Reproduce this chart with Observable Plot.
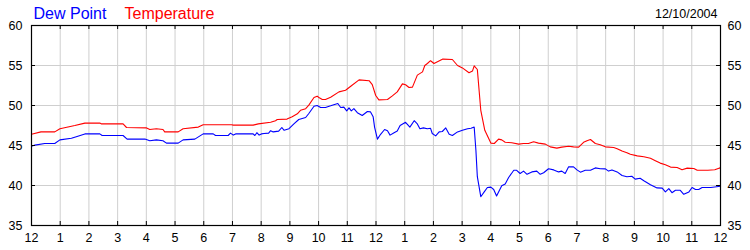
<!DOCTYPE html>
<html>
<head>
<meta charset="utf-8">
<script src="https://cdn.jsdelivr.net/npm/d3@7"></script>
<script src="https://cdn.jsdelivr.net/npm/@observablehq/plot@0.6"></script>
<style>
  html, body { margin: 0; padding: 0; background: #fff; }
</style>
</head>
<body>
<div id="chart"></div>
<script>
// Series labels and date
const seriesNames = ["Dew Point", "Temperature"];
const dateLabel = "12/10/2004";

// Hour ticks (0 = midnight .. 24 = next midnight), y ticks
const hourTicks = d3.range(0, 25);
const hourLabels = ["12","1","2","3","4","5","6","7","8","9","10","11","12","1","2","3","4","5","6","7","8","9","10","11","12"];
const yTicks = [35, 40, 45, 50, 55, 60];

// Temperature (hours since midnight, °F)
const tempHours = [0,0.33,0.81,0.99,1.51,1.86,2.38,2.44,3.19,3.31,4.01,4.12,4.35,4.58,4.64,5.11,5.28,5.81,5.98,6.97,7.03,7.72,7.9,8.33,8.5,8.56,8.9,9.08,9.26,9.37,9.55,9.66,9.84,9.95,10.01,10.13,10.24,10.42,10.71,10.94,11.12,11.41,11.76,11.87,11.99,12.1,12.4,12.57,12.74,12.92,13.03,13.15,13.27,13.44,13.62,13.7,13.79,13.9,14.02,14.33,14.66,14.84,15.01,15.24,15.36,15.42,15.53,15.65,15.79,16.0,16.12,16.27,16.38,16.5,16.73,16.97,17.14,17.31,17.49,17.66,17.9,18.07,18.3,18.47,18.71,18.88,19.06,19.23,19.35,19.47,19.64,19.81,19.99,20.28,20.4,20.57,20.74,20.86,21.1,21.33,21.56,21.73,21.9,22.08,22.26,22.49,22.66,22.84,23.07,23.19,23.56,23.8,23.97,24];
const tempValues = [46.4,46.7,46.7,47.1,47.5,47.8,47.8,47.7,47.7,47.25,47.2,47.0,47.1,47.0,46.7,46.7,47.1,47.3,47.6,47.6,47.55,47.55,47.7,47.9,48.1,48.25,48.3,48.6,48.96,49.4,49.6,50.04,51.0,51.17,51.0,50.75,50.75,51.04,51.7,51.9,52.4,53.2,53.1,52.6,51.25,50.7,50.75,51.2,51.7,52.7,52.6,52.25,52.3,53.8,54.2,55.0,55.25,55.6,55.25,55.8,55.75,55.0,54.7,54.1,54.3,54.96,54.5,49.4,46.9,45.3,45.25,45.8,45.7,45.4,45.35,45.17,45.25,45.25,45.46,45.3,45.17,44.83,44.67,44.8,44.9,44.83,44.8,45.4,45.6,45.75,45.25,45.1,44.83,44.75,44.6,44.3,44.1,43.9,43.7,43.6,43.4,43.1,42.8,42.6,42.3,42.25,41.96,42.17,42.13,41.9,41.9,41.96,42.2,42.17];

// Dew point (hours since midnight, °F)
const dewHours = [0,0.12,0.46,0.81,0.99,1.39,1.56,1.86,2.38,2.46,3.19,3.33,3.95,4.12,4.35,4.58,4.7,5.11,5.28,5.69,5.98,6.33,6.41,6.85,6.93,7.03,7.11,7.72,7.78,7.85,7.93,8.01,8.1,8.26,8.33,8.42,8.61,8.72,8.8,8.97,9.14,9.31,9.55,9.66,9.84,9.95,10.07,10.24,10.42,10.53,10.67,10.77,10.88,10.98,11.06,11.14,11.23,11.35,11.52,11.7,11.81,11.9,11.95,12.05,12.16,12.3,12.4,12.49,12.63,12.74,12.84,13.03,13.18,13.33,13.44,13.53,13.65,13.79,13.9,13.96,14.08,14.2,14.31,14.43,14.55,14.66,14.84,15.01,15.19,15.31,15.42,15.48,15.53,15.65,15.77,15.88,16.0,16.1,16.2,16.38,16.5,16.62,16.8,16.9,17.02,17.14,17.26,17.43,17.6,17.72,17.84,18.01,18.19,18.36,18.47,18.59,18.71,18.88,19.0,19.12,19.29,19.47,19.64,19.81,19.99,20.1,20.22,20.4,20.57,20.74,20.91,21.03,21.2,21.33,21.56,21.79,21.97,22.08,22.2,22.31,22.43,22.6,22.72,22.9,23.01,23.13,23.24,23.36,23.66,24];
const dewValues = [44.9,45.05,45.25,45.25,45.7,45.9,46.1,46.45,46.45,46.25,46.25,45.8,45.8,45.6,45.7,45.6,45.3,45.3,45.7,45.8,46.45,46.45,46.25,46.25,46.55,46.3,46.45,46.45,46.25,46.6,46.3,46.45,46.5,46.55,46.85,46.7,46.8,47.25,46.9,47.1,47.7,48.25,48.5,49.0,49.9,50.0,49.75,49.75,49.96,50.1,50.25,49.75,49.8,49.33,49.7,49.33,49.6,49.1,48.75,49.25,49.2,48.6,47.3,45.8,46.4,47.0,46.85,46.3,46.6,46.8,47.5,47.9,47.3,48.1,47.7,47.1,47.2,47.1,47.15,46.5,46.2,46.7,46.75,47.2,46.4,46.25,46.7,46.9,47.1,47.15,47.3,44.4,41.1,38.6,39.2,39.75,39.8,39.5,38.7,39.96,40.2,41.0,41.9,41.9,41.5,41.8,41.4,41.7,41.8,41.4,41.6,42.1,41.95,41.7,41.8,41.5,42.33,42.33,41.95,41.67,41.9,41.9,42.2,42.1,42.08,41.8,41.95,41.7,41.25,41.1,41.15,40.8,40.9,40.6,40.1,39.7,39.67,39.2,39.6,39.1,39.4,39.4,38.9,39.2,39.75,39.5,39.5,39.75,39.75,39.9];

const temp = tempHours.map((h, i) => ({h, v: tempValues[i]}));
const dew = dewHours.map((h, i) => ({h, v: dewValues[i]}));

const blue = "#0000ff";
const red = "#ff0000";
const gridColor = "#cfcfcf";

const chart = Plot.plot({
  width: 750,
  height: 250,
  marginLeft: 31,
  marginRight: 30,
  marginTop: 25,
  marginBottom: 25,
  x: {domain: [0, 24]},
  y: {domain: [35, 60]},
  style: {
    fontFamily: "'Liberation Sans', Arial, sans-serif",
    fontSize: "12.5px",
    color: "#000",
    background: "#fff",
    overflow: "visible"
  },
  marks: [
    Plot.gridX(hourTicks, {stroke: gridColor, strokeOpacity: 1}),
    Plot.gridY(yTicks, {stroke: gridColor, strokeOpacity: 1}),
    Plot.line(dew, {x: "h", y: "v", stroke: blue, strokeWidth: 1.1}),
    Plot.line(temp, {x: "h", y: "v", stroke: red, strokeWidth: 1.1}),
    Plot.frame({stroke: "#000", strokeWidth: 1.2}),
    // inward tick marks
    Plot.ruleX(hourTicks, {x: d => d, insetTop: 196, stroke: "#000"}),
    Plot.ruleX(hourTicks, {x: d => d, insetBottom: 196, stroke: "#000"}),
    Plot.ruleY(yTicks, {y: d => d, insetRight: 685, stroke: "#000"}),
    Plot.ruleY(yTicks, {y: d => d, insetLeft: 685, stroke: "#000"}),
    // axis labels
    Plot.axisX(hourTicks, {anchor: "bottom", tickSize: 0, tickPadding: 8, tickFormat: (d, i) => hourLabels[i], label: null, fontSize: 12.5}),
    Plot.axisY(yTicks, {anchor: "left", tickSize: 0, tickPadding: 9, label: null, fontSize: 12.5}),
    Plot.axisY(yTicks, {anchor: "right", tickSize: 0, tickPadding: 7, label: null, fontSize: 12.5}),
    // legend / title text
    Plot.text([seriesNames[0]], {text: d => d, frameAnchor: "top-left", textAnchor: "start", lineAnchor: "bottom", dx: 2, dy: -7, fill: blue, fontSize: 16}),
    Plot.text([seriesNames[1]], {text: d => d, frameAnchor: "top-left", textAnchor: "start", lineAnchor: "bottom", dx: 93, dy: -7, fill: red, fontSize: 16}),
    Plot.text([dateLabel], {text: d => d, frameAnchor: "top-right", textAnchor: "end", lineAnchor: "bottom", dx: -3, dy: -8, fill: "#000", fontSize: 12.5})
  ]
});

document.getElementById("chart").appendChild(chart);
</script>
</body>
</html>
